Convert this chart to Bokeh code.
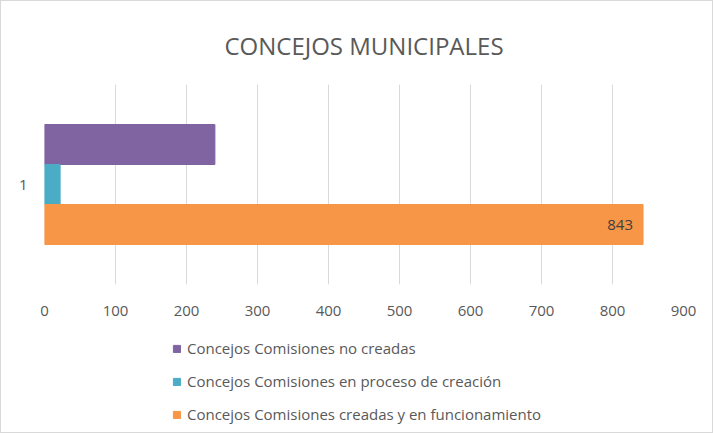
from bokeh.plotting import figure
from bokeh.models import ColumnDataSource, Legend, LegendItem, LabelSet, FactorRange, Title, Range1d
from bokeh.layouts import column
from bokeh.core.properties import value
from bokeh.transform import dodge
from bokeh.embed import file_html
from bokeh.resources import INLINE

categories = ["1"]
series_names = [
    "Concejos Comisiones no creadas",
    "Concejos Comisiones en proceso de creación",
    "Concejos Comisiones creadas y en funcionamiento",
]
no_creadas = [240]
en_proceso = [22]
creadas = [843]
x_ticks = [0, 100, 200, 300, 400, 500, 600, 700, 800, 900]

colors = ["#8064A2", "#4BACC6", "#F79646"]
FONT = "Open Sans"
TXT = "#595959"

src = ColumnDataSource(dict(cat=categories, a=no_creadas, b=en_proceso, c=creadas,
                            clab=[str(v) for v in creadas]))

# ---- main chart ----
p = figure(width=711, height=321, output_backend="svg", toolbar_location=None,
           x_range=(0, 900), y_range=FactorRange(factors=categories, range_padding=0),
           min_border_left=43, min_border_right=29, min_border_top=83, min_border_bottom=38)

p.title = Title(text="CONCEJOS MUNICIPALES", align="center", text_font=FONT,
                text_font_size="24px", text_font_style="normal", text_color=TXT,
                standoff=46)

p.hbar(y=dodge("cat", 0.2, range=p.y_range), right="a", left=0, height=0.2,
       source=src, color=colors[0])
p.hbar(y=dodge("cat", 0.0, range=p.y_range), right="b", left=0, height=0.2,
       source=src, color=colors[1])
p.hbar(y=dodge("cat", -0.2, range=p.y_range), right="c", left=0, height=0.2,
       source=src, color=colors[2])

labels = LabelSet(x="c", y=dodge("cat", -0.2, range=p.y_range), text="clab", source=src,
                  x_offset=-10, text_align="right", text_baseline="middle",
                  text_font=value(FONT), text_font_size=value("15px"), text_color="#404040")
p.add_layout(labels)

p.xaxis.ticker = x_ticks
p.xaxis.axis_line_color = None
p.xaxis.major_tick_line_color = None
p.xaxis.minor_tick_line_color = None
p.xaxis.major_label_text_font = FONT
p.xaxis.major_label_text_font_size = "15px"
p.xaxis.major_label_text_color = TXT
p.xaxis.major_label_standoff = 15

p.yaxis.axis_line_color = None
p.yaxis.major_tick_line_color = None
p.yaxis.major_label_text_font = FONT
p.yaxis.major_label_text_font_size = "15px"
p.yaxis.major_label_text_color = TXT
p.yaxis.major_label_standoff = 11

p.xgrid.grid_line_color = "#d9d9d9"
p.ygrid.grid_line_color = None
p.outline_line_color = None

# ---- legend strip ----
q = figure(width=711, height=110, output_backend="svg", toolbar_location=None,
           x_range=Range1d(0, 1000), y_range=Range1d(0, 1),
           x_axis_type=None, y_axis_type=None,
           min_border_left=0, min_border_right=0, min_border_top=0, min_border_bottom=0)
q.grid.visible = False
q.outline_line_color = None

proxy = ColumnDataSource(dict(a=no_creadas, b=en_proceso, c=creadas))
lr = [q.hbar(y=0, right=col, left=0, height=0.1, source=proxy, color=c, visible=False)
      for col, c in zip(["a", "b", "c"], colors)]

legend = Legend(items=[LegendItem(label=n, renderers=[r]) for n, r in zip(series_names, lr)],
                orientation="vertical", location=(128, 8),
                label_text_font=FONT, label_text_font_size="15px", label_text_color=TXT,
                glyph_width=9, glyph_height=9, label_standoff=6, spacing=13,
                label_height=20, padding=4, margin=0, border_line_color=None,
                background_fill_alpha=0, inactive_fill_alpha=0, click_policy="none")
q.add_layout(legend, "center")

layout = column(p, q, spacing=0)
layout.styles = {"border": "1px solid #d9d9d9"}

open("out.html", "w").write(file_html(layout, INLINE))
